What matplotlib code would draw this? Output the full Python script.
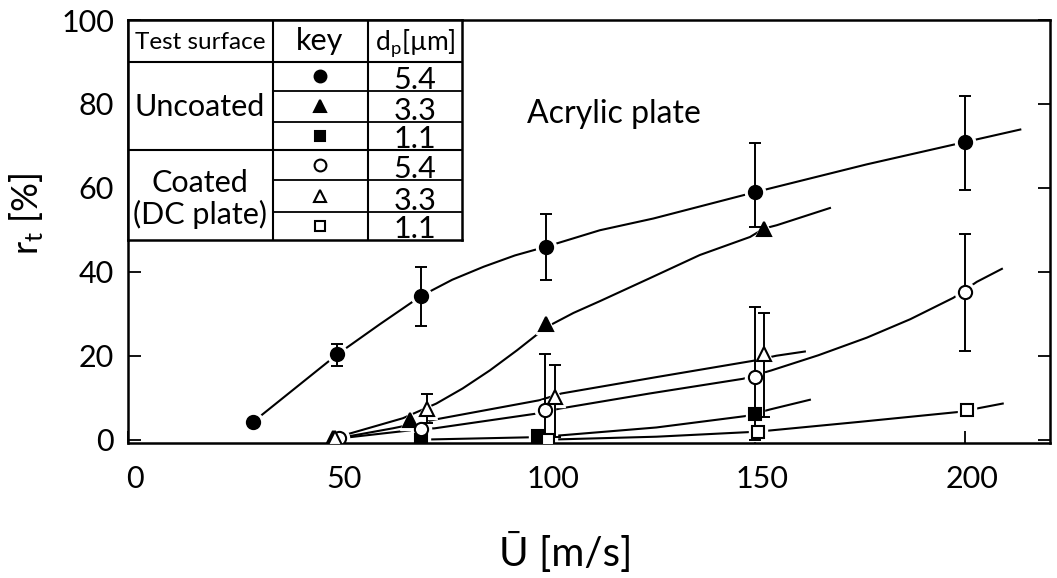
import matplotlib
matplotlib.use('Agg')
import matplotlib.pyplot as plt
import matplotlib.transforms as mtransforms

plt.rcParams['font.family'] = ['Lato', 'DejaVu Sans']
plt.rcParams['mathtext.fontset'] = 'custom'
plt.rcParams['mathtext.rm'] = 'Lato'
plt.rcParams['mathtext.default'] = 'regular'

# uncoated, dp = 5.4 (filled circle)
unc54_x = [30, 50, 70, 100, 150, 200]
unc54_y = [4.3, 20.3, 34.2, 46.0, 59.0, 70.9]
unc54_lo = [0, 2.8, 7.1, 7.9, 8.3, 11.5]
unc54_hi = [0, 2.5, 6.9, 7.7, 11.8, 11.1]
unc54_cx = [30, 50, 60.2, 70, 77.5, 85, 92.5, 100, 112.8, 125.6, 150, 176.6, 200, 213.3]
unc54_cy = [4.3, 20.3, 27.5, 34.2, 38.1, 41.2, 43.9, 46.0, 49.9, 52.7, 59.0, 65.6, 70.9, 73.9]

# uncoated, dp = 3.3 (filled triangle)
unc33_x = [49, 67.5, 100, 152]
unc33_y = [0.3, 4.7, 27.5, 50.3]
unc33_cx = [49, 65.7, 73.7, 80, 86.5, 93, 100, 106.5, 112.8, 124.8, 136.7, 148.7, 152, 155.1, 167.8]
unc33_cy = [0.3, 5.1, 8.6, 12.2, 16.5, 21.3, 26.8, 30.2, 33.0, 38.5, 44.0, 48.3, 50.3, 51.1, 55.2]

# uncoated, dp = 1.1 (filled square)
unc11_x = [70, 98, 150]
unc11_y = [0, 0.8, 6.0]
unc11_cx = [70, 98, 104.4, 126.3, 147.5, 153.5, 163]
unc11_cy = [0, 0.6, 1.1, 2.9, 5.6, 7.2, 9.5]

# coated (DC plate), dp = 5.4 (open circle)
coa54_x = [50.5, 70, 99.6, 150, 200]
coa54_y = [0.3, 2.5, 7.0, 15.0, 35.3]
coa54_lo = [0, 0, 7.0, 15.0, 14.1]
coa54_hi = [0, 0, 13.4, 16.6, 13.8]
coa54_cx = [50.5, 70, 73.3, 97.6, 103.2, 124.7, 147, 153.8, 165, 176.6, 187, 197.3, 202.9, 208.9]
coa54_cy = [0.3, 2.5, 2.7, 6.2, 7.4, 11.0, 14.5, 16.5, 20.1, 24.3, 28.7, 33.8, 37.6, 40.7]

# coated (DC plate), dp = 3.3 (open triangle)
coa33_x = [49.5, 71.5, 102, 152]
coa33_y = [0.4, 7.4, 10.2, 20.4]
coa33_lo = [0, 3.5, 9.5, 15.0]
coa33_hi = [0, 3.5, 7.6, 9.8]
coa33_cx = [50, 63.3, 74.5, 98.4, 103.6, 126.3, 149.5, 155, 161.8]
coa33_cy = [0.3, 2.7, 5.0, 9.4, 11.0, 14.9, 18.8, 20.0, 21.0]

# coated (DC plate), dp = 1.1 (open square)
coa11_x = [100.5, 150.5, 200.5]
coa11_y = [0, 1.9, 7.0]
coa11_cx = [100.5, 126.3, 150.5, 175, 198.6, 209.1]
coa11_cy = [0, 0.7, 1.9, 4.25, 6.6, 8.6]

x_ticks = [0, 50, 100, 150, 200]
y_ticks = [0, 20, 40, 60, 80, 100]

surfaces = ['Uncoated', 'Coated\n(DC plate)']
dp_labels = ['5.4', '3.3', '1.1', '5.4', '3.3', '1.1']


fig = plt.figure(figsize=(10.57, 5.78), dpi=100)
ax = fig.add_axes([128 / 1057, 1 - 443 / 578, 922 / 1057, 423 / 578])

series = [
    (unc54_x, unc54_y, unc54_cx, unc54_cy, 'o', 'black', 9.5),
    (unc33_x, unc33_y, unc33_cx, unc33_cy, '^', 'black', 9.5),
    (unc11_x, unc11_y, unc11_cx, unc11_cy, 's', 'black', 8.5),
    (coa54_x, coa54_y, coa54_cx, coa54_cy, 'o', 'white', 9.5),
    (coa33_x, coa33_y, coa33_cx, coa33_cy, '^', 'white', 9.5),
    (coa11_x, coa11_y, coa11_cx, coa11_cy, 's', 'white', 8.5),
]

# fitted curves
for sx, sy, cx, cy, m, fc, ms in series:
    ax.plot(cx, cy, color='black', lw=1.5, zorder=2, solid_joinstyle='round')

# white halos so the curves stop short of the symbols
for sx, sy, cx, cy, m, fc, ms in series:
    ax.plot(sx, sy, ls='none', marker=m, ms=ms + 5, mfc='white', mec='white', zorder=3)

# error bars
err = [(unc54_x, unc54_y, unc54_lo, unc54_hi),
       (coa54_x, coa54_y, coa54_lo, coa54_hi),
       (coa33_x, coa33_y, coa33_lo, coa33_hi)]
for ex, ey, lo, hi in err:
    ax.errorbar(ex, ey, yerr=[lo, hi], fmt='none', ecolor='black', elinewidth=1.4,
                capsize=4.5, capthick=1.4, zorder=4)

for sx, sy, cx, cy, m, fc, ms in series:
    ax.plot(sx, sy, ls='none', marker=m, ms=ms, mfc=fc, mec='black', mew=1.5, zorder=5)

ax.set_xlim(0, 220.4)
ax.set_ylim(-0.8, 99.1)
ax.set_xticks(x_ticks)
ax.set_yticks(y_ticks)
ax.tick_params(direction='in', length=9, width=1.3, right=True, top=False,
               labelsize=22, pad=10)
ax.tick_params(axis='x', pad=16)
for s in ax.spines.values():
    s.set_linewidth(1.8)
    s.set_zorder(4.5)

shift = mtransforms.ScaledTranslation(7 / 100, 0, fig.dpi_scale_trans)
for lab in ax.get_xticklabels():
    lab.set_transform(lab.get_transform() + shift)

ax.text(0.527, 0.778, 'Acrylic plate', transform=ax.transAxes, fontsize=23,
        ha='center', va='center')

fig.text(566 / 1057, 1 - 552 / 578, 'Ū [m/s]', fontsize=29, ha='center', va='center')
fig.text(27 / 1057, 1 - 214 / 578, 'r$_t$ [%]', fontsize=26, ha='center', va='center',
         rotation=90)

# key table in the top-left corner (pixel coordinates)
tb = fig.add_axes([128 / 1057, 1 - 240 / 578, (462 - 128) / 1057, (240 - 20) / 578])
tb.set_zorder(3)
tb.set_xlim(128, 462)
tb.set_ylim(240, 20)
tb.set_xticks([])
tb.set_yticks([])
for s in tb.spines.values():
    s.set_linewidth(1.8)

col_edges = [273, 368]
row_edges = [61.7, 90.7, 121.7, 150, 180, 211.7, 240]
for cx_ in col_edges:
    tb.plot([cx_, cx_], [20, 240], color='black', lw=1.5)
tb.plot([128, 462], [61.7, 61.7], color='black', lw=1.5)
tb.plot([128, 462], [150, 150], color='black', lw=1.5)
for ry in [90.7, 121.7, 180, 211.7]:
    tb.plot([273, 462], [ry, ry], color='black', lw=1.3)

tb.text(200, 43, 'Test surface', fontsize=17.5, ha='center', va='center')
tb.text(320, 41, 'key', fontsize=22, ha='center', va='center')
tb.text(415, 43, 'd$_p$[µm]', fontsize=19, ha='center', va='center')
tb.text(200, 107, surfaces[0], fontsize=22, ha='center', va='center')
tb.text(200, 199, surfaces[1], fontsize=22, ha='center', va='center', linespacing=1.15)

key_y = [(row_edges[i] + row_edges[i + 1]) / 2 for i in range(6)]
for i, (sx, sy, cx, cy, m, fc, ms) in enumerate(series):
    tb.plot([320], [key_y[i]], ls='none', marker=m, ms=ms - 1, mfc=fc, mec='black', mew=1.5)
    tb.text(415, row_edges[i + 1] - 1.5, dp_labels[i], fontsize=22, ha='center', va='baseline')

fig.savefig('out.png', dpi=100)
